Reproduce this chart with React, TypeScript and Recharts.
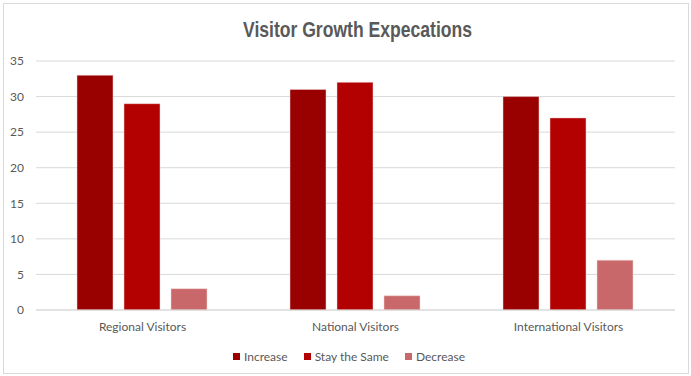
import React from "react";
import { BarChart, Bar, XAxis, YAxis, CartesianGrid, Legend } from "recharts";

const categories = ["Regional Visitors", "National Visitors", "International Visitors"];
const increase = [33, 31, 30];
const stayTheSame = [29, 32, 27];
const decrease = [3, 2, 7];
const yTicks = [0, 5, 10, 15, 20, 25, 30, 35];

const seriesInfo = [
  { key: "increase", name: "Increase", color: "#990000" },
  { key: "stay", name: "Stay the Same", color: "#b30000" },
  { key: "decrease", name: "Decrease", color: "#c9686a" },
];

const data = categories.map((c, i) => ({
  category: c,
  increase: increase[i],
  stay: stayTheSame[i],
  decrease: decrease[i],
}));

const FONT = "Lato, 'Open Sans', sans-serif";

const LegendContent = () => {
  return (
    <div style={{ display: "flex", justifyContent: "center", alignItems: "center", fontFamily: FONT, fontSize: 12, color: "#595959", height: 20, paddingLeft: 7 }}>
      {seriesInfo.map((p, i) => (
        <div key={i} style={{ display: "flex", alignItems: "center", marginRight: i < seriesInfo.length - 1 ? 16 : 0 }}>
          <span style={{ width: 7, height: 7, background: p.color, display: "inline-block", marginRight: 4 }} />
          <span>{p.name}</span>
        </div>
      ))}
    </div>
  );
};

export default function App() {
  return (
    <div style={{ position: "absolute", left: 0, top: 0, width: 691, height: 376, background: "#fff" }}>
      <div style={{ position: "absolute", left: 3, top: 3, width: 684, height: 369, border: "1px solid #d9d9d9" }} />
      <svg style={{ position: "absolute", left: 0, top: 0 }} width={691} height={60}>
        <text
          x={357.5}
          y={37}
          textAnchor="middle"
          textLength={229}
          lengthAdjust="spacingAndGlyphs"
          fontFamily="'Liberation Sans', Arial, sans-serif"
          fontWeight="bold"
          fontSize={22}
          fill="#595959"
        >
          Visitor Growth Expecations
        </text>
      </svg>
      <div style={{ position: "absolute", left: 0, top: 0 }}>
        <BarChart
          width={691}
          height={376}
          data={data}
          margin={{ top: 61, right: 16, left: 0, bottom: 16 }}
          barCategoryGap={41}
          barGap={11}
        >
          <CartesianGrid vertical={false} stroke="#d9d9d9" strokeDasharray="" />
          <XAxis
            dataKey="category"
            height={30}
            tickLine={false}
            axisLine={{ stroke: "#d9d9d9" }}
            tickSize={0}
            tickMargin={12}
            tick={{ fill: "#595959", fontSize: 12, fontFamily: FONT }}
            interval={0}
          />
          <YAxis
            width={36}
            domain={[0, 35]}
            ticks={yTicks}
            axisLine={false}
            tickLine={false}
            tickSize={0}
            tickMargin={12}
            tick={{ fill: "#595959", fontSize: 12, fontFamily: FONT }}
          />
          <Legend verticalAlign="bottom" height={20} content={<LegendContent />} wrapperStyle={{ bottom: 10, left: 0, width: 691 }} />
          {seriesInfo.map((s) => (
            <Bar key={s.key} dataKey={s.key} name={s.name} fill={s.color} stroke="#f3d6d6" strokeWidth={0.5} isAnimationActive={false} />
          ))}
        </BarChart>
      </div>
    </div>
  );
}
